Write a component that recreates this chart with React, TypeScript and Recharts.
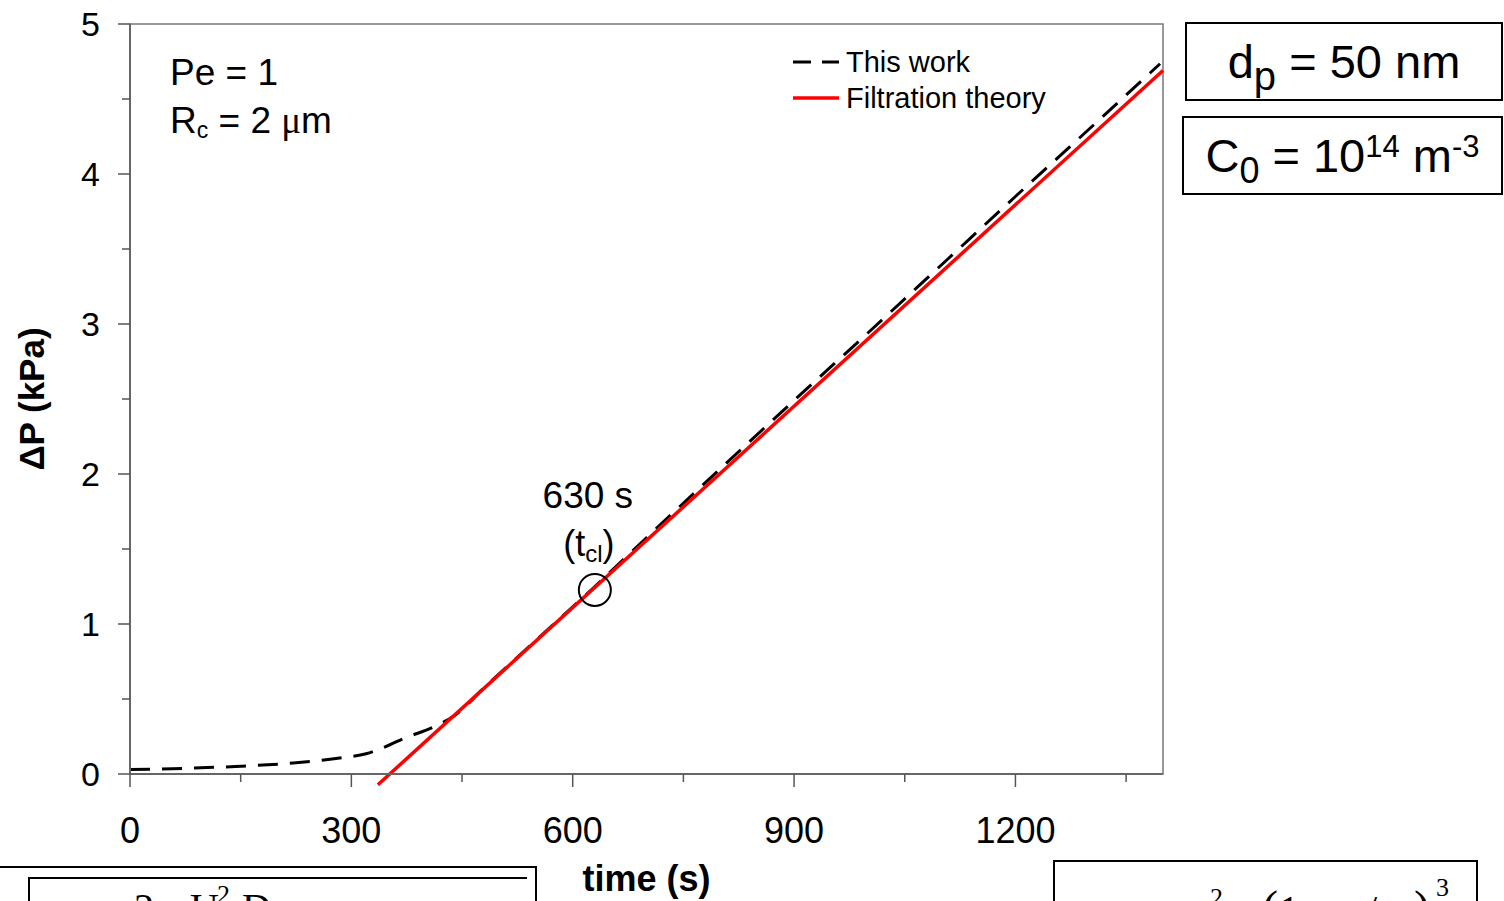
import React from "react";
import {
  LineChart,
  Line,
  XAxis,
  YAxis,
  Legend,
  Label,
  ReferenceDot,
  ReferenceArea,
} from "recharts";

// "This work" simulation (dashed) — time in s, pressure drop in kPa
const workTime = [0, 75, 150, 225, 290, 320, 350, 370, 410, 440, 480, 550, 630, 700, 800, 900, 1000, 1100, 1200, 1300, 1396];
const workDp = [0.03, 0.038, 0.052, 0.075, 0.11, 0.135, 0.19, 0.235, 0.31, 0.39, 0.575, 0.89, 1.25, 1.575, 2.035, 2.49, 2.94, 3.395, 3.85, 4.3, 4.735];

// Filtration theory (straight red line)
const theoryTime = [336, 1400];
const theoryDp = [-0.072, 4.69];

// clogging time marker
const clogTime = 630;
const clogDp = 1.227;

const xTicks = [0, 150, 300, 450, 600, 750, 900, 1050, 1200, 1350];
const xLabels = [0, 300, 600, 900, 1200];
const yTicks = [0, 0.5, 1, 1.5, 2, 2.5, 3, 3.5, 4, 4.5, 5];
const yLabels = [0, 1, 2, 3, 4, 5];

const seriesNames = ["This work", "Filtration theory"];

const workData = workTime.map((t, i) => ({ t, dp: workDp[i] }));
const theoryData = theoryTime.map((t, i) => ({ t, dp: theoryDp[i] }));

const SANS = '"Liberation Sans", Arial, sans-serif';
const SERIF = '"Liberation Serif", "Times New Roman", serif';

const legendStyle: Record<string, { width: number; dash?: string }> = {
  "This work": { width: 3, dash: "18 11" },
  "Filtration theory": { width: 3.5 },
};

const XTick = ({ x, y, payload }: any) => {
  const major = xLabels.includes(payload.value);
  return (
    <g>
      <line x1={x} x2={x} y1={y} y2={y + (major ? 13 : 8)} stroke="#555" strokeWidth={1.5} />
      {major && (
        <text x={x} y={y + 69} textAnchor="middle" fontSize={36} fontFamily={SANS} fill="#000">
          {payload.value}
        </text>
      )}
    </g>
  );
};

const YTick = ({ x, y, payload }: any) => {
  const major = yLabels.includes(payload.value);
  return (
    <g>
      <line x1={x - (major ? 12 : 8)} x2={x} y1={y} y2={y} stroke="#555" strokeWidth={1.5} />
      {major && (
        <text x={x - 30} y={y + 12} textAnchor="end" fontSize={34} fontFamily={SANS} fill="#000">
          {payload.value}
        </text>
      )}
    </g>
  );
};

const renderLegend = (props: any) => {
  const items = [...(props.payload || [])].sort(
    (a: any, b: any) => seriesNames.indexOf(a.value) - seriesNames.indexOf(b.value)
  );
  return (
    <div style={{ fontFamily: SANS }}>
      {items.map((entry: any) => {
        const s = legendStyle[entry.value] || { width: 3 };
        return (
          <div key={entry.value} style={{ display: "flex", alignItems: "center", height: 36 }}>
            <svg width={46} height={10} style={{ display: "block" }}>
              <line x1={0} x2={46} y1={5} y2={5} stroke={entry.color} strokeWidth={s.width} strokeDasharray={s.dash} />
            </svg>
            <span style={{ marginLeft: 7, fontSize: 29, color: "#000", lineHeight: "36px" }}>{entry.value}</span>
          </div>
        );
      })}
    </div>
  );
};

const clogLabel = (props: any) => {
  const vb = props.viewBox || {};
  const cx = vb.x + vb.width / 2;
  const cy = vb.y + vb.height / 2;
  return (
    <g fontFamily={SANS} fill="#000">
      <text x={cx - 7} y={cy - 82} textAnchor="middle" fontSize={37}>
        {clogTime} s
      </text>
      <text x={cx - 6} y={cy - 34} textAnchor="middle" fontSize={36}>
        (t<tspan fontSize={24} dy={6}>cl</tspan>
        <tspan dy={-6}>)</tspan>
      </text>
    </g>
  );
};

const boxStyle: React.CSSProperties = {
  position: "absolute",
  height: 79,
  boxSizing: "border-box",
  border: "2px solid #000",
  display: "flex",
  alignItems: "center",
  justifyContent: "center",
  color: "#000",
  lineHeight: 1,
  whiteSpace: "nowrap",
};

export default function App() {
  return (
    <div
      style={{
        position: "absolute",
        left: 0,
        top: 0,
        width: 1504,
        height: 901,
        overflow: "hidden",
        background: "#fff",
        fontFamily: SANS,
      }}
    >
      <style>{`.theory-line [clip-path]{clip-path:none !important;}`}</style>
      <LineChart width={1504} height={901} margin={{ top: 24, right: 341, bottom: 57, left: 60 }}>
        <XAxis
          type="number"
          dataKey="t"
          domain={[0, 1400]}
          ticks={xTicks}
          interval={0}
          height={70}
          tickSize={0}
          tickMargin={0}
          tickLine={false}
          tick={<XTick />}
          axisLine={{ stroke: "#666", strokeWidth: 2 }}
        >
          <Label
            value="time (s)"
            position="bottom"
            offset={21}
            style={{ fontSize: 36, fontWeight: "bold", fontFamily: SANS, fill: "#000" }}
          />
        </XAxis>
        <YAxis
          type="number"
          domain={[0, 5]}
          ticks={yTicks}
          interval={0}
          allowDataOverflow
          width={70}
          tickSize={0}
          tickMargin={0}
          tickLine={false}
          tick={<YTick />}
          axisLine={{ stroke: "#666", strokeWidth: 2 }}
        >
          <Label
            value="ΔP (kPa)"
            angle={-90}
            position="left"
            offset={28}
            textAnchor="middle"
            style={{ fontSize: 35, fontWeight: "bold", fontFamily: SANS, fill: "#000" }}
          />
        </YAxis>
        <ReferenceArea
          x1={0}
          x2={1400}
          y1={0}
          y2={5}
          fill="none"
          stroke="#777"
          strokeWidth={1.5}
          ifOverflow="visible"
        />
        <Legend
          layout="vertical"
          align="center"
          verticalAlign="middle"
          content={renderLegend}
          wrapperStyle={{ left: 793, top: 44, width: 320 }}
        />
        <Line
          data={workData}
          dataKey="dp"
          name={seriesNames[0]}
          type="monotone"
          stroke="#000"
          strokeWidth={3}
          strokeDasharray="20 12"
          dot={false}
          isAnimationActive={false}
        />
        <Line
          data={theoryData}
          dataKey="dp"
          name={seriesNames[1]}
          type="linear"
          stroke="#ff0000"
          strokeWidth={3.5}
          dot={false}
          className="theory-line"
          isAnimationActive={false}
        />
        <ReferenceDot
          x={clogTime}
          y={clogDp}
          r={16}
          fill="none"
          stroke="#000"
          strokeWidth={2}
          ifOverflow="visible"
          label={clogLabel}
        />
      </LineChart>

      {/* text annotations */}
      <svg
        width={1504}
        height={901}
        style={{ position: "absolute", left: 0, top: 0, pointerEvents: "none" }}
      >
        <g fontFamily={SANS} fill="#000" fontSize={37}>
          <text x={170} y={85}>Pe = 1</text>
          <text x={170} y={133}>
            R<tspan fontSize={23} dy={5}>c</tspan>
            <tspan dy={-5}> = 2 </tspan>
            <tspan fontFamily={SERIF}>μ</tspan>
            <tspan>m</tspan>
          </text>
        </g>
        {/* tops of the equations below the chart, cut by the page edge */}
        <g fontFamily={SERIF} fill="#000">
          <text x={134} y={921} fontSize={40}>2</text>
          <text x={160} y={921} fontSize={40}>μ</text>
          <text x={190} y={921} fontSize={40}>U</text>
          <text x={217} y={903} fontSize={26}>2</text>
          <text x={242} y={921} fontSize={40}>D</text>
          <text x={1188} y={923} fontSize={40}>ε</text>
          <text x={1210} y={906} fontSize={26}>2</text>
          <text x={1262} y={924} fontSize={48}>(</text>
          <text x={1279} y={923} fontSize={40}>1</text>
          <text x={1310} y={923} fontSize={40}>−</text>
          <text x={1345} y={923} fontSize={40}>ε</text>
          <text x={1366} y={923} fontSize={40}>/</text>
          <text x={1414} y={924} fontSize={48}>)</text>
          <text x={1436} y={896} fontSize={26}>3</text>
        </g>
      </svg>

      {/* parameter boxes */}
      <div style={{ ...boxStyle, left: 1185, top: 22, width: 318, fontSize: 47 }}>
        <span>
          d<span style={{ fontSize: 40, position: "relative", top: 12 }}>p</span> = 50 nm
        </span>
      </div>
      <div style={{ ...boxStyle, left: 1182, top: 116, width: 321, fontSize: 47 }}>
        <span>
          C<span style={{ fontSize: 36, position: "relative", top: 11 }}>0</span> = 10
          <span style={{ fontSize: 31, position: "relative", top: -15 }}>14</span> m
          <span style={{ fontSize: 31, position: "relative", top: -15 }}>-3</span>
        </span>
      </div>

      {/* equation boxes cut by the page edge */}
      <div
        style={{
          position: "absolute",
          left: -2,
          top: 866,
          width: 539,
          height: 80,
          boxSizing: "border-box",
          border: "2px solid #000",
        }}
      />
      <div
        style={{
          position: "absolute",
          left: 28,
          top: 877,
          width: 499,
          height: 60,
          boxSizing: "border-box",
          borderTop: "2px solid #000",
          borderLeft: "2px solid #000",
        }}
      />
      <div
        style={{
          position: "absolute",
          left: 1053,
          top: 860,
          width: 425,
          height: 80,
          boxSizing: "border-box",
          border: "2px solid #000",
        }}
      />
    </div>
  );
}
